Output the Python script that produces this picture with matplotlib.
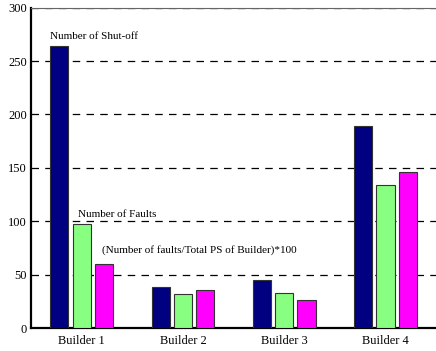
import matplotlib
matplotlib.use('Agg')
import matplotlib.pyplot as plt
import numpy as np

# bar data per builder
builders = ['Builder 1', 'Builder 2', 'Builder 3', 'Builder 4']
shutoff = [264, 38, 45, 189]
faults = [97, 32, 33, 134]
fault_ratio = [60, 36, 26, 146]

plt.rcParams['font.family'] = 'Liberation Serif'

fig = plt.figure(figsize=(4.36, 3.51), dpi=100)
ax = fig.add_axes([0.0711, 0.0655, 0.929, 0.9125])

x = np.arange(1, len(builders) + 1)
w = 0.18
off = 0.22
ax.bar(x - off, shutoff, w, color='#000080', edgecolor='#333333', linewidth=0.8, zorder=3)
ax.bar(x, faults, w, color='#88ff80', edgecolor='#333333', linewidth=0.8, zorder=3)
ax.bar(x + off, fault_ratio, w, color='#ff00ff', edgecolor='#333333', linewidth=0.8, zorder=3)

ax.set_xlim(0.5, 4.5)
ax.set_ylim(0, 300)
ax.set_yticks(range(0, 301, 50))
ax.set_xticks(x)
ax.set_xticklabels(builders)
ax.tick_params(axis='y', length=0, labelsize=9, pad=3)
ax.tick_params(axis='x', length=0, labelsize=9, pad=5)
for yv in range(50, 301, 50):
    ax.axhline(yv, color='black', linestyle=(0, (6, 5)), linewidth=0.9, zorder=1)

for s in ['left', 'bottom']:
    ax.spines[s].set_linewidth(1.6)
ax.spines['top'].set_linewidth(0.8)
ax.spines['top'].set_color('#666666')
ax.spines['right'].set_visible(False)

# series labels placed above bars of Builder 1
ax.text(x[0] - off - w / 2, shutoff[0] + 5, 'Number of Shut-off', fontsize=8, va='bottom', ha='left')
ax.text(x[0] - w / 2 + 0.05, faults[0] + 5, 'Number of Faults', fontsize=8, va='bottom', ha='left')
ax.text(x[0] + 0.2, fault_ratio[0] + 8, '(Number of faults/Total PS of Builder)*100', fontsize=8,
        va='bottom', ha='left')

fig.savefig('out.png', dpi=100)
